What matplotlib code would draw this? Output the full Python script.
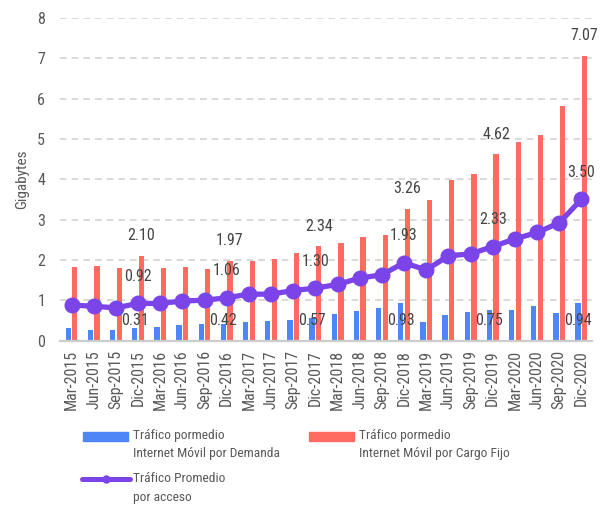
import matplotlib
matplotlib.use("Agg")
import matplotlib.pyplot as plt
from matplotlib.patches import Rectangle
from matplotlib.lines import Line2D
import numpy as np

plt.rcParams['font.family'] = ['Roboto Condensed', 'DejaVu Sans']

categories = ["Mar-2015", "Jun-2015", "Sep-2015", "Dic-2015",
              "Mar-2016", "Jun-2016", "Sep-2016", "Dic-2016",
              "Mar-2017", "Jun-2017", "Sep-2017", "Dic-2017",
              "Mar-2018", "Jun-2018", "Sep-2018", "Dic-2018",
              "Mar-2019", "Jun-2019", "Sep-2019", "Dic-2019",
              "Mar-2020", "Jun-2020", "Sep-2020", "Dic-2020"]
demanda = [0.32, 0.26, 0.26, 0.31, 0.33, 0.38, 0.40, 0.42,
           0.47, 0.48, 0.52, 0.57, 0.66, 0.74, 0.81, 0.93,
           0.47, 0.63, 0.70, 0.75, 0.76, 0.86, 0.68, 0.94]
cargo_fijo = [1.82, 1.85, 1.80, 2.10, 1.80, 1.83, 1.77, 1.97,
              1.97, 2.01, 2.18, 2.34, 2.42, 2.57, 2.63, 3.26,
              3.48, 3.98, 4.14, 4.62, 4.93, 5.10, 5.83, 7.07]
promedio = [0.88, 0.85, 0.81, 0.92, 0.92, 0.98, 1.00, 1.06,
            1.15, 1.15, 1.24, 1.30, 1.39, 1.55, 1.63, 1.93,
            1.75, 2.10, 2.15, 2.33, 2.52, 2.68, 2.92, 3.50]
yticks = [0, 1, 2, 3, 4, 5, 6, 7, 8]
label_idx = [3, 7, 11, 15, 19, 23]

BLUE = "#4F86F7"
RED = "#FF6B61"
PURPLE = "#7B44E8"
TXT = "#444444"
TICK = "#595959"

fig = plt.figure(figsize=(6.03, 5.05), dpi=100)
ax = fig.add_axes([0.1002, 0.3257, 0.8823, 0.6386])

x = np.arange(len(categories))
w = 0.24
off = 0.15
ax.bar(x - off, demanda, width=w, color=BLUE, zorder=2)
ax.bar(x + off, cargo_fijo, width=w, color=RED, zorder=2)
ax.plot(x, promedio, color=PURPLE, lw=3.8, marker='o', markersize=10.5, zorder=3)

fs = 11.5
for i in label_idx:
    ax.annotate(f"{cargo_fijo[i]:.2f}", (x[i] + off, cargo_fijo[i]), xytext=(0, 14.5),
                textcoords='offset points', ha='center', va='center', fontsize=fs, color=TXT, zorder=4)
    ax.annotate(f"{promedio[i]:.2f}", (x[i], promedio[i]), xytext=(0, 19.5),
                textcoords='offset points', ha='center', va='center', fontsize=fs, color=TXT, zorder=4)
    ax.text(x[i] - off, 0.49, f"{demanda[i]:.2f}", ha='center', va='center',
            fontsize=fs, color=TXT, zorder=4)

ax.set_xlim(-0.5, len(categories) - 0.5)
ax.set_ylim(0, 8)
ax.set_yticks(yticks)
ax.set_yticklabels([str(t) for t in yticks])
ax.set_xticks(x)
ax.set_xticklabels(categories, rotation=90)
ax.tick_params(axis='both', length=0, labelsize=fs, colors=TICK)
ax.tick_params(axis='y', pad=11)
ax.tick_params(axis='x', pad=7)
for s in ['top', 'right', 'left']:
    ax.spines[s].set_visible(False)
ax.spines['bottom'].set_color('#cccccc')
ax.spines['bottom'].set_linewidth(1.6)
ax.yaxis.grid(True, color='#d3d3d3', linestyle=(0, (4, 3)), linewidth=1.2, zorder=0)
ax.set_axisbelow(True)
ax.set_ylabel("Gigabytes", fontsize=11, color=TICK)
ax.yaxis.set_label_coords(-0.058, 0.5)

# legend (drawn in figure pixel coordinates)
W, H = 603.0, 505.0
def fx(px): return px / W
def fy(py): return 1 - py / H

fig.add_artist(Rectangle((fx(83), fy(441)), (128 - 83) / W, 9 / H, transform=fig.transFigure,
                         color=BLUE))
fig.add_artist(Rectangle((fx(309), fy(441)), (354 - 309) / W, 9 / H, transform=fig.transFigure,
                         color=RED))
fig.add_artist(Line2D([fx(82), fx(130)], [fy(479), fy(479)], transform=fig.transFigure,
                      color=PURPLE, lw=3.6, solid_capstyle='round'))
fig.add_artist(Line2D([fx(106)], [fy(479)], transform=fig.transFigure, color=PURPLE,
                      marker='o', markersize=5))
lfs = 9.7
fig.text(fx(133), fy(436), "Tráfico pormedio", ha='left', va='center', fontsize=lfs, color=TICK)
fig.text(fx(133), fy(454), "Internet Móvil por Demanda", ha='left', va='center', fontsize=lfs, color=TICK)
fig.text(fx(359), fy(436), "Tráfico pormedio", ha='left', va='center', fontsize=lfs, color=TICK)
fig.text(fx(359), fy(454), "Internet Móvil por Cargo Fijo", ha='left', va='center', fontsize=lfs, color=TICK)
fig.text(fx(133), fy(479), "Tráfico Promedio", ha='left', va='center', fontsize=lfs, color=TICK)
fig.text(fx(133), fy(497), "por acceso", ha='left', va='center', fontsize=lfs, color=TICK)

fig.savefig("out.png", dpi=100)
